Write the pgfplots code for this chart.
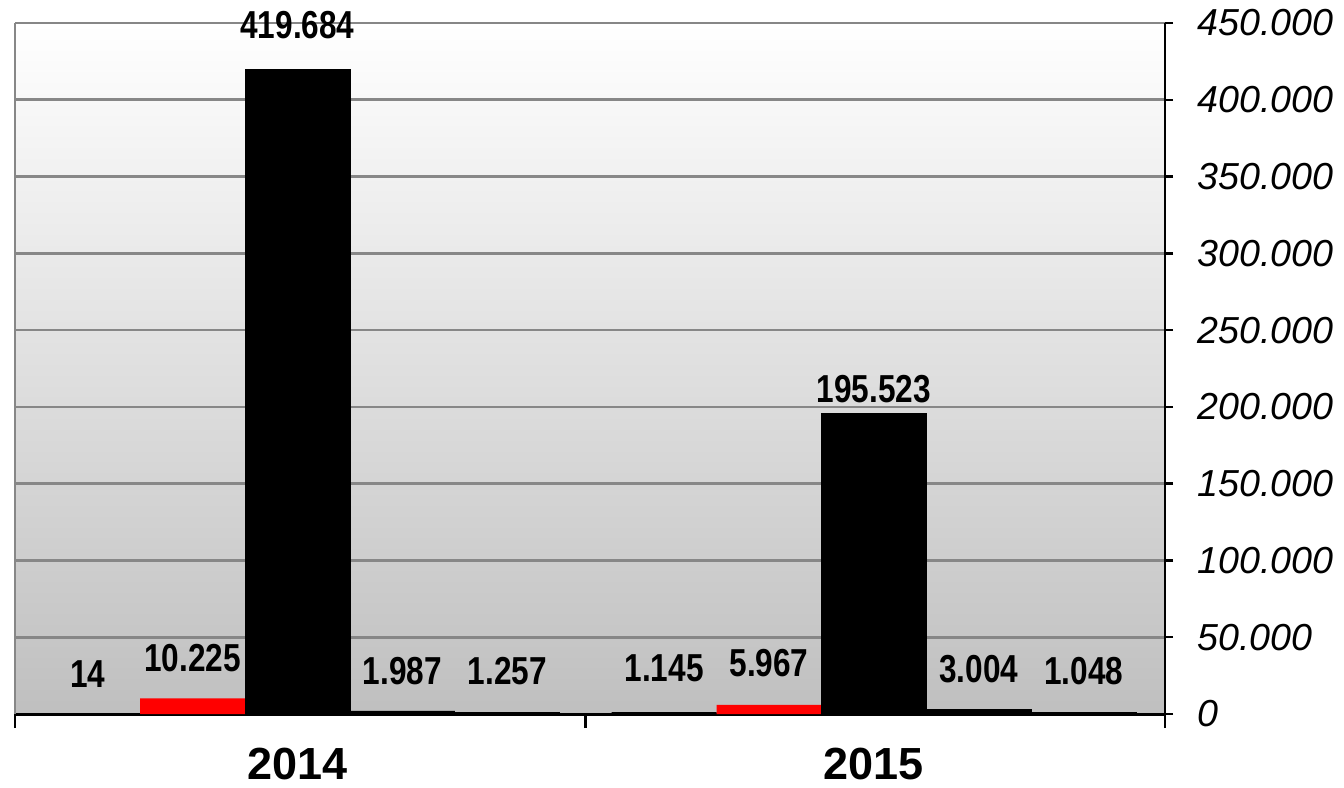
\documentclass[border=0pt]{standalone}
\usepackage{pgfplots}
\pgfplotsset{compat=1.18}
\usepackage{fontspec}
\setmainfont{Liberation Sans}
\newfontfamily\narrowfont[FakeStretch=0.81]{Liberation Sans}

\begin{document}
\begin{tikzpicture}
\useasboundingbox (0,0) rectangle (672bp,394bp);
\begin{axis}[
  at={(7.5bp,37bp)}, anchor=south west,
  scale only axis, width=575bp, height=345.5bp,
  ybar=0pt, bar width=0.182,
  xmin=-0.49, xmax=1.505, ymin=0, ymax=450000,
  axis x line*=bottom, axis y line*=right,
  x axis line style={-, line width=1.5bp},
  y axis line style={-, line width=1.2bp},
  xtick={0,1}, xticklabels={2014,2015},
  major x tick style={draw=none},
  minor xtick={-0.49,0.5,1.505},
  minor x tick style={black, line width=1.2bp},
  minor tick length=7bp,
  xticklabel style={font=\fontsize{22.5bp}{24bp}\selectfont\bfseries,
    anchor=north, inner sep=0pt, yshift=-13bp},
  ytick={0,50000,...,450000},
  scaled y ticks=false,
  /pgf/number format/fixed, /pgf/number format/precision=0,
  /pgf/number format/1000 sep={.},
  /pgf/number format/assume math mode=true,
  yticklabel style={font=\fontsize{18.8bp}{21bp}\selectfont\itshape,
    anchor=west, inner sep=0pt, xshift=12bp},
  y tick style={black, line width=1.2bp},
  major tick length=4bp, tick align=outside,
  ymajorgrids, major grid style={draw=black!47, line width=1.3bp},
  axis background/.style={top color=white, bottom color=black!25},
  clip=false,
  visualization depends on={\thisrow{off} \as \labeloff},
  nodes near coords={\pgfmathprintnumber{\pgfplotspointmeta}},
  nodes near coords style={anchor=south, inner sep=0pt, yshift=\labeloff bp,
    font=\fontsize{19.5bp}{22bp}\narrowfont\bfseries, text=black},
]
% series 1 (tiny)
\addplot[fill=black, draw=none] table {
x y off
0 14 13
1 1145 15
};
% series 2 (red)
\addplot[fill=red, draw=none] table {
x y off
0 10225 13
1 5967 14
};
% series 3 (big black)
\addplot[fill=black, draw=black] table {
x y off
0 419684 15
1 195523 5
};
% series 4
\addplot[fill=black, draw=black] table {
x y off
0 1987 13
1 3004 13
};
% series 5
\addplot[fill=black, draw=black] table {
x y off
0 1257 13.5
1 1048 13.5
};
\draw[black!47, line width=1.3bp] (rel axis cs:0,0) -- (rel axis cs:0,1);
\end{axis}
\end{tikzpicture}
\end{document}
